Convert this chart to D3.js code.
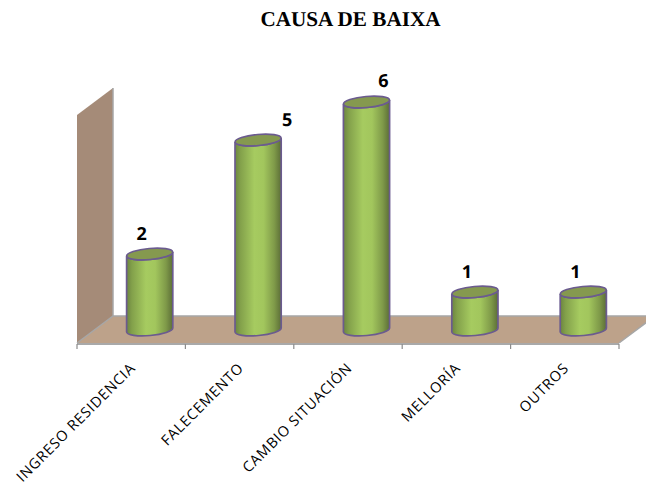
<!DOCTYPE html>
<html><head><meta charset="utf-8">
<script src="https://cdn.jsdelivr.net/npm/d3@7/dist/d3.min.js"></script>
<style>html,body{margin:0;padding:0;background:#fff;overflow:hidden}svg{display:block}text{text-rendering:geometricPrecision}</style>
</head><body><svg id="c" width="646" height="486"></svg>
<script>
const categories = ["INGRESO RESIDENCIA","FALECEMENTO","CAMBIO SITUACIÓN","MELLORÍA","OUTROS"];
const values = [2,5,6,1,1];
const titleText = "CAUSA DE BAIXA";

const W = 646, H = 486;
const plot = {left:77, right:619, top:115, bottom:343};
const depth = {dx:36, dy:27};
const svg = d3.select("#c");
const x = d3.scaleBand().domain(categories).range([plot.left, plot.right]);
const y = d3.scaleLinear().domain([0,6]).range([plot.bottom, plot.top]);

const defs = svg.append("defs");
const grad = defs.append("linearGradient").attr("id","cyl").attr("x1","0").attr("x2","1").attr("y1","0").attr("y2","0");
[[0,"#6c8540"],[0.12,"#83a14b"],[0.42,"#a6cb60"],[0.62,"#a2c65d"],[0.85,"#7f9a49"],[1,"#5c6e37"]]
  .forEach(([o,c])=>grad.append("stop").attr("offset",o).attr("stop-color",c));

// floor and back wall
const wallColor="#a58b78", floorColor="#bda28a", edge="#a6a6a6";
const yTop=y(6), y0=y(0);
svg.append("path").attr("fill",wallColor)
  .attr("d",d3.line()([[x.range()[0],y0],[x.range()[0],yTop],[x.range()[0]+depth.dx,yTop-depth.dy],[x.range()[0]+depth.dx,y0-depth.dy]])+"Z");
svg.append("path").attr("fill",floorColor)
  .attr("d",d3.line()([[x.range()[0],y0],[x.range()[0]+depth.dx,y0-depth.dy],[x.range()[1]+depth.dx,y0-depth.dy],[x.range()[1],y0]])+"Z");
svg.append("path").attr("fill","none").attr("stroke",edge).attr("stroke-width",1.5)
  .attr("d",d3.line()([[x.range()[0]+depth.dx,yTop-depth.dy],[x.range()[0]+depth.dx,y0-depth.dy],[x.range()[1]+depth.dx,y0-depth.dy]]));
svg.append("path").attr("fill","none").attr("stroke",edge).attr("stroke-width",1.5)
  .attr("d",d3.line()([[x.range()[0],y0],[x.range()[0]+depth.dx,y0-depth.dy]]));
svg.append("path").attr("fill","none").attr("stroke",edge).attr("stroke-width",1.5)
  .attr("d",d3.line()([[x.range()[1],y0],[x.range()[1]+depth.dx,y0-depth.dy]]));

// axis
const axisG = svg.append("g").attr("transform",`translate(0,${y0+1})`);
axisG.append("path").attr("stroke","#8c8c8c").attr("stroke-width",1.5).attr("fill","none")
  .attr("d",`M${x.range()[0]},0H${x.range()[1]}`);
const tickVals = categories.map(c=>x(c)).concat(x.range()[1]);
axisG.selectAll("line").data(tickVals).join("line")
  .attr("x1",d=>d).attr("x2",d=>d).attr("y1",0).attr("y2",5)
  .attr("stroke","#8c8c8c").attr("stroke-width",1.2);
svg.selectAll("text.cat").data(categories).join("text").attr("class","cat")
  .attr("transform",d=>`translate(${x(d)+x.bandwidth()*0.5+5},${y0+26}) rotate(-45)`)
  .attr("text-anchor","end")
  .attr("font-family","'Open Sans', Lato, sans-serif")
  .attr("font-size",14.5).attr("letter-spacing",0.8).attr("fill","#000").text(d=>d);

// cylinders
const rw = x.bandwidth()*0.213, ry = 5.5, tilt = -5, dxBar = 18.5, dyBar = 13;
const sin = Math.sin(tilt*Math.PI/180)*rw;
const cyl = svg.selectAll("g.bar").data(categories.map((c,i)=>({c,v:values[i]}))).join("g").attr("class","bar")
  .attr("transform",d=>`translate(${x(d.c)+x.bandwidth()/2+dxBar},0)`);
const stroke="#6b5b8f";
cyl.append("path").attr("fill","url(#cyl)").attr("stroke",stroke).attr("stroke-width",1.7)
  .attr("d",d=>{
    const t=y(d.v)-dyBar, b=y(0)-dyBar;
    return `M${-rw},${t-sin}L${-rw},${b-sin}A${rw},${ry} ${tilt} 0 0 ${rw},${b+sin}L${rw},${t+sin}A${rw},${ry} ${tilt} 0 1 ${-rw},${t-sin}Z`;
  });
cyl.append("ellipse").attr("cx",0).attr("cy",d=>y(d.v)-dyBar).attr("rx",rw).attr("ry",ry)
  .attr("transform",d=>`rotate(${tilt} 0 ${y(d.v)-dyBar})`)
  .attr("fill","#85994f").attr("stroke",stroke).attr("stroke-width",1.7);
// label placement follows the reference: value labels sit up and left, taller bars shift right
const labelDx = d => d.v===5 ? 29 : d.v===6 ? 17 : -8;
cyl.append("text").attr("x",labelDx).attr("y",d=>y(d.v)-dyBar-(d.v===6?15:14))
  .attr("text-anchor","middle").attr("font-family","'Open Sans', Lato, sans-serif")
  .attr("font-weight",700).attr("font-size",18).attr("fill","#000").text(d=>d.v);

svg.append("text").attr("x",350.5).attr("y",26).attr("text-anchor","middle")
  .attr("font-family","'Liberation Serif', serif").attr("font-weight",700).attr("font-size",21.2).text(titleText);
</script></body></html>
